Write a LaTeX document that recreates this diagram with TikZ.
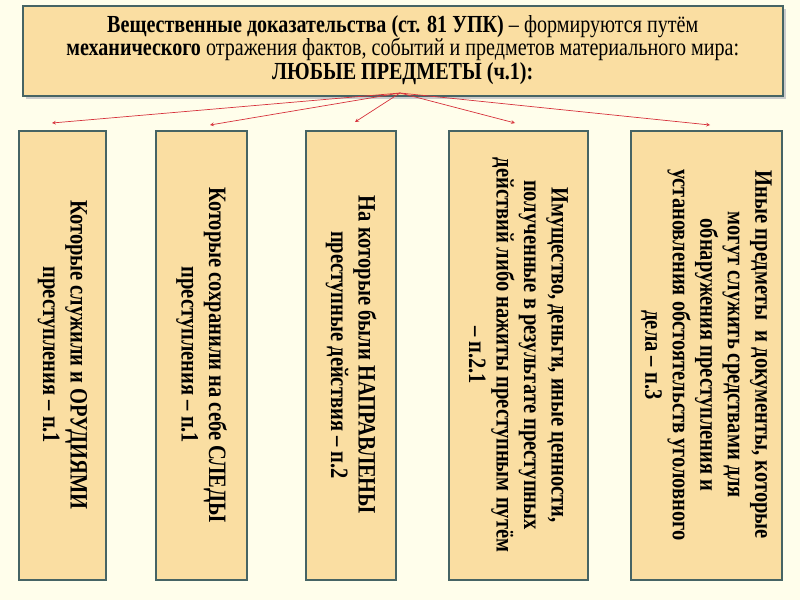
\documentclass[tikz,border=0pt]{standalone}
\usepackage{fontspec}
\setmainfont{Liberation Serif}[FakeStretch=0.82]
\begin{document}
\begin{tikzpicture}[x=1pt,y=-1pt,
  box/.style={draw=boxline,line width=1.5pt,fill=boxfill},
  vtext/.style={rotate=-90,align=center,font=\bfseries\fontsize{25}{27.5}\selectfont},
  arr/.style={draw=arrred,line width=0.7pt,-stealth}]
\definecolor{boxfill}{RGB}{250,222,162}
\definecolor{boxline}{RGB}{70,100,100}
\definecolor{arrred}{RGB}{215,50,60}
\fill[white!92!yellow] (0,0) rectangle (800,600);
\useasboundingbox (0,0) rectangle (800,600);
\fill[gray!40] (26,9) rectangle (786,99);
\node[box,minimum width=760pt,minimum height=90pt,inner sep=0pt,anchor=north west] (top) at (22,5) {};
\node[align=center,font=\fontsize{24.5}{23.5}\selectfont] (toptext) at ([yshift=1pt]top.center)
 {\textbf{Вещественные доказательства (ст. 81 УПК)} – формируются путём\\
 \textbf{механического} отражения фактов, событий и предметов материального мира:\\
 \textbf{ЛЮБЫЕ ПРЕДМЕТЫ (ч.1):}};
\coordinate (src) at (400,93);
\foreach \n/\xa/\xb in {b1/19/106,b2/156/247,b3/306/396,b4/449/588,b5/631/782}{
  \draw[box] (\xa,131) rectangle (\xb,580);
  \coordinate (\n) at ({(\xa+\xb)/2},131);
}
\node[vtext] (t1) at (b1 |- 0,355) {Которые служили и ОРУДИЯМИ\\ преступления – п.1};
\node[vtext] (t2) at (b2 |- 0,355) {Которые сохранили на себе СЛЕДЫ\\ преступления – п.1};
\node[vtext] (t3) at (b3 |- 0,355) {На которые были НАПРАВЛЕНЫ\\ преступные действия – п.2};
\node[vtext] (t4) at (b4 |- 0,355) {Имущество, деньги, иные ценности,\\ полученные в результате преступных\\ действий либо нажиты преступным путём\\ – п.2.1};
\node[vtext] (t5) at (b5 |- 0,355) {Иные предметы \ и документы, которые\\ могут служить средствами для\\ обнаружения преступления и\\ установления обстоятельств уголовного\\ дела – п.3};
\coordinate (e1) at (52,123);
\coordinate (e2) at (210,125);
\coordinate (e3) at (355,122);
\coordinate (e4) at (515,123);
\coordinate (e5) at (710,125);
\foreach \e in {e1,e2,e3,e4,e5}{\draw[arr] (src) -- (\e);}
\end{tikzpicture}
\end{document}
